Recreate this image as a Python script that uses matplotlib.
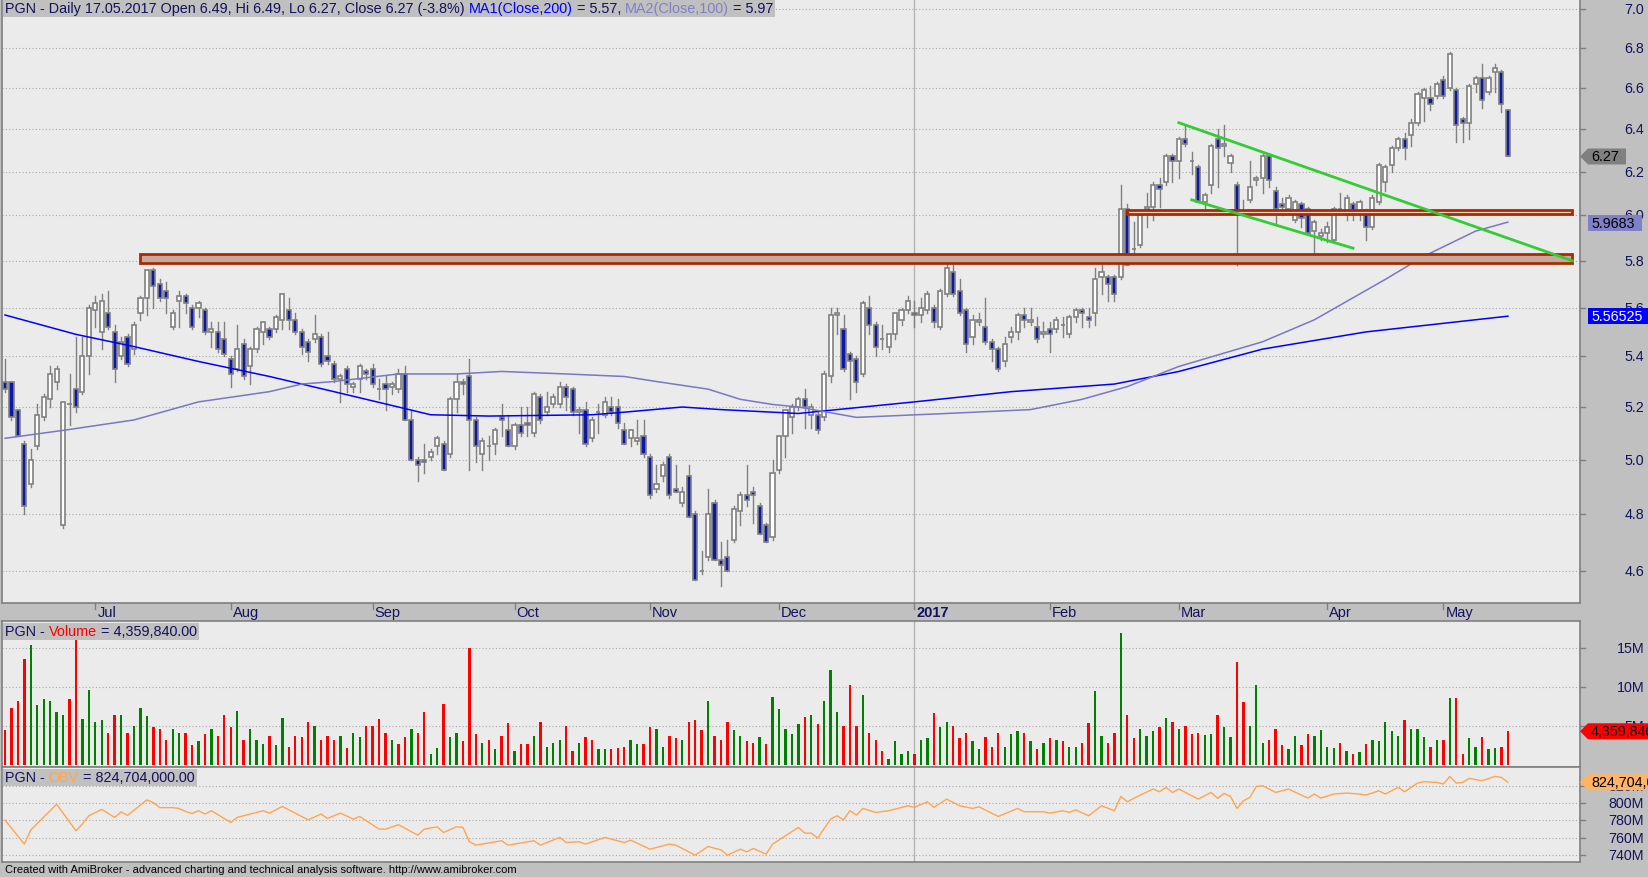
import matplotlib
matplotlib.use("Agg")
import matplotlib.pyplot as plt
from matplotlib.patches import Rectangle, Polygon
from matplotlib.lines import Line2D
from matplotlib.transforms import IdentityTransform, blended_transform_factory

plt.rcParams['font.family'] = ['Liberation Sans', 'DejaVu Sans']

# ---- daily candles, 234 sessions (Jun 2016 - 17 May 2017) ----
opens = [
    5.30, 5.30, 5.19, 5.06, 4.91, 5.05, 5.16, 5.23, 5.30, 4.76,
    5.21, 5.27, 5.26, 5.40, 5.59, 5.50, 5.58, 5.50, 5.40, 5.48,
    5.43, 5.58, 5.64, 5.76, 5.70, 5.67, 5.52, 5.63, 5.65, 5.60,
    5.60, 5.59, 5.50, 5.50, 5.47, 5.39, 5.35, 5.45, 5.36, 5.43,
    5.50, 5.51, 5.51, 5.55, 5.59, 5.55, 5.50, 5.46, 5.47, 5.48,
    5.40, 5.37, 5.31, 5.35, 5.28, 5.31, 5.34, 5.35, 5.27, 5.29,
    5.28, 5.27, 5.33, 5.15, 5.00, 5.00, 5.01, 5.05, 5.06, 5.02,
    5.23, 5.30, 5.32, 5.15, 5.02, 5.05, 5.06, 5.16, 5.11, 5.05,
    5.13, 5.14, 5.10, 5.24, 5.18, 5.21, 5.21, 5.28, 5.27, 5.18,
    5.19, 5.08, 5.18, 5.17, 5.20, 5.20, 5.11, 5.08, 5.07, 5.09,
    5.01, 4.89, 4.94, 5.01, 4.89, 4.84, 4.94, 4.80, 4.60, 4.65,
    4.84, 4.64, 4.65, 4.71, 4.81, 4.87, 4.88, 4.83, 4.76, 4.72,
    4.96, 5.09, 5.16, 5.20, 5.23, 5.17, 5.17, 5.16, 5.32, 5.57,
    5.51, 5.41, 5.39, 5.33, 5.60, 5.53, 5.47, 5.44, 5.49, 5.55,
    5.59, 5.58, 5.57, 5.59, 5.60, 5.52, 5.66, 5.75, 5.67, 5.59,
    5.48, 5.54, 5.52, 5.46, 5.43, 5.38, 5.48, 5.50, 5.57, 5.54,
    5.52, 5.49, 5.51, 5.51, 5.53, 5.49, 5.56, 5.59, 5.56, 5.58,
    5.73, 5.73, 5.73, 5.73, 6.03, 5.85, 5.87, 6.03, 6.04, 6.14,
    6.15, 6.27, 6.25, 6.35, 6.25, 6.22, 6.06, 6.14, 6.35, 6.32,
    6.24, 6.14, 6.02, 6.07, 6.16, 6.17, 6.27, 6.11, 6.05, 6.03,
    5.98, 6.05, 6.03, 5.93, 5.91, 5.92, 5.89, 6.03, 6.00, 6.05,
    6.01, 6.02, 5.95, 6.06, 6.15, 6.23, 6.31, 6.35, 6.37, 6.43,
    6.55, 6.55, 6.56, 6.64, 6.60, 6.59, 6.45, 6.43, 6.62, 6.65,
    6.58, 6.68, 6.68, 6.49,
]
highs = [
    5.39, 5.30, 5.19, 5.07, 5.04, 5.21, 5.25, 5.36, 5.36, 5.22,
    5.33, 5.48, 5.48, 5.61, 5.65, 5.66, 5.67, 5.53, 5.48, 5.49,
    5.54, 5.65, 5.76, 5.77, 5.72, 5.71, 5.59, 5.67, 5.66, 5.61,
    5.63, 5.60, 5.54, 5.54, 5.54, 5.40, 5.53, 5.47, 5.44, 5.52,
    5.54, 5.52, 5.57, 5.66, 5.64, 5.58, 5.51, 5.47, 5.57, 5.49,
    5.50, 5.38, 5.33, 5.36, 5.30, 5.37, 5.35, 5.37, 5.31, 5.32,
    5.30, 5.35, 5.36, 5.19, 5.01, 5.06, 5.04, 5.09, 5.07, 5.24,
    5.33, 5.31, 5.39, 5.16, 5.08, 5.09, 5.12, 5.21, 5.17, 5.14,
    5.20, 5.20, 5.26, 5.25, 5.26, 5.25, 5.30, 5.29, 5.28, 5.20,
    5.22, 5.16, 5.21, 5.24, 5.24, 5.23, 5.14, 5.11, 5.15, 5.15,
    5.02, 4.98, 4.99, 5.02, 4.98, 4.90, 4.98, 4.81, 4.67, 4.89,
    4.85, 4.70, 4.71, 4.83, 4.88, 4.98, 4.90, 4.84, 4.77, 5.00,
    5.09, 5.19, 5.21, 5.24, 5.27, 5.21, 5.18, 5.34, 5.60, 5.60,
    5.57, 5.42, 5.40, 5.63, 5.65, 5.54, 5.53, 5.49, 5.58, 5.60,
    5.65, 5.63, 5.64, 5.67, 5.61, 5.68, 5.80, 5.78, 5.72, 5.60,
    5.57, 5.58, 5.64, 5.47, 5.44, 5.48, 5.52, 5.58, 5.60, 5.60,
    5.56, 5.54, 5.54, 5.56, 5.56, 5.57, 5.60, 5.60, 5.60, 5.77,
    5.78, 5.74, 5.74, 6.14, 6.05, 5.97, 6.01, 6.10, 6.15, 6.17,
    6.28, 6.28, 6.36, 6.42, 6.29, 6.23, 6.10, 6.33, 6.40, 6.42,
    6.28, 6.15, 6.07, 6.25, 6.18, 6.28, 6.28, 6.13, 6.08, 6.09,
    6.07, 6.06, 6.04, 5.98, 5.94, 5.97, 6.04, 6.10, 6.09, 6.06,
    6.07, 6.03, 6.09, 6.24, 6.23, 6.32, 6.36, 6.38, 6.45, 6.58,
    6.60, 6.61, 6.63, 6.66, 6.78, 6.60, 6.46, 6.62, 6.66, 6.72,
    6.66, 6.72, 6.69, 6.49,
]
lows = [
    5.26, 5.15, 5.09, 4.80, 4.90, 5.04, 5.15, 5.20, 5.27, 4.75,
    5.13, 5.18, 5.25, 5.33, 5.52, 5.43, 5.51, 5.30, 5.39, 5.36,
    5.41, 5.55, 5.57, 5.60, 5.63, 5.58, 5.51, 5.52, 5.58, 5.51,
    5.56, 5.49, 5.44, 5.42, 5.40, 5.28, 5.34, 5.31, 5.29, 5.42,
    5.45, 5.47, 5.50, 5.51, 5.51, 5.49, 5.41, 5.38, 5.46, 5.36,
    5.37, 5.30, 5.22, 5.26, 5.26, 5.26, 5.31, 5.28, 5.23, 5.19,
    5.25, 5.26, 5.15, 5.00, 4.92, 4.95, 5.00, 5.02, 4.96, 5.01,
    5.18, 5.25, 4.96, 4.99, 4.96, 5.00, 5.02, 5.09, 5.05, 5.04,
    5.09, 5.09, 5.09, 5.14, 5.17, 5.20, 5.20, 5.19, 5.17, 5.10,
    5.05, 5.07, 5.10, 5.16, 5.17, 5.12, 5.06, 5.05, 5.06, 5.01,
    4.86, 4.88, 4.92, 4.86, 4.88, 4.83, 4.79, 4.57, 4.59, 4.64,
    4.64, 4.55, 4.60, 4.70, 4.76, 4.83, 4.77, 4.73, 4.70, 4.71,
    4.95, 5.01, 5.10, 5.19, 5.12, 5.12, 5.10, 5.15, 5.30, 5.49,
    5.34, 5.23, 5.26, 5.32, 5.49, 5.40, 5.43, 5.42, 5.47, 5.53,
    5.58, 5.52, 5.54, 5.58, 5.52, 5.51, 5.65, 5.65, 5.57, 5.42,
    5.45, 5.53, 5.45, 5.38, 5.34, 5.36, 5.46, 5.47, 5.52, 5.53,
    5.46, 5.48, 5.42, 5.50, 5.48, 5.48, 5.54, 5.52, 5.52, 5.53,
    5.66, 5.63, 5.63, 5.72, 5.78, 5.82, 5.86, 5.95, 5.98, 6.04,
    6.14, 6.15, 6.17, 6.32, 6.19, 6.06, 6.01, 6.10, 6.13, 6.27,
    6.20, 5.78, 6.01, 6.06, 6.14, 6.10, 6.13, 5.96, 6.00, 6.02,
    5.97, 5.95, 5.92, 5.79, 5.89, 5.88, 5.88, 6.02, 5.98, 5.98,
    5.98, 5.89, 5.94, 6.05, 6.11, 6.20, 6.30, 6.26, 6.32, 6.42,
    6.44, 6.49, 6.55, 6.55, 6.59, 6.34, 6.34, 6.35, 6.58, 6.50,
    6.57, 6.58, 6.48, 6.27,
]
closes = [
    5.27, 5.16, 5.09, 4.83, 5.00, 5.17, 5.24, 5.33, 5.35, 5.22,
    5.21, 5.20, 5.40, 5.60, 5.62, 5.63, 5.52, 5.35, 5.46, 5.37,
    5.53, 5.64, 5.76, 5.69, 5.64, 5.64, 5.58, 5.65, 5.62, 5.52,
    5.62, 5.50, 5.51, 5.43, 5.41, 5.33, 5.43, 5.32, 5.43, 5.51,
    5.54, 5.48, 5.56, 5.66, 5.55, 5.50, 5.44, 5.42, 5.49, 5.37,
    5.38, 5.31, 5.32, 5.29, 5.29, 5.36, 5.33, 5.29, 5.27, 5.27,
    5.29, 5.33, 5.15, 5.00, 4.98, 4.99, 5.03, 5.08, 4.96, 5.23,
    5.30, 5.29, 5.15, 5.05, 5.07, 5.05, 5.11, 5.15, 5.05, 5.13,
    5.10, 5.13, 5.25, 5.15, 5.20, 5.24, 5.28, 5.24, 5.18, 5.19,
    5.06, 5.15, 5.18, 5.22, 5.18, 5.14, 5.06, 5.11, 5.08, 5.02,
    4.87, 4.91, 4.98, 4.87, 4.88, 4.88, 4.79, 4.57, 4.60, 4.80,
    4.64, 4.62, 4.60, 4.82, 4.87, 4.85, 4.87, 4.73, 4.70, 4.95,
    5.09, 5.19, 5.20, 5.23, 5.20, 5.20, 5.11, 5.33, 5.57, 5.58,
    5.35, 5.38, 5.30, 5.62, 5.53, 5.44, 5.47, 5.49, 5.58, 5.59,
    5.63, 5.57, 5.60, 5.66, 5.54, 5.67, 5.77, 5.66, 5.58, 5.45,
    5.55, 5.55, 5.46, 5.43, 5.35, 5.45, 5.50, 5.57, 5.55, 5.55,
    5.47, 5.50, 5.49, 5.55, 5.53, 5.56, 5.59, 5.58, 5.55, 5.72,
    5.75, 5.70, 5.66, 6.03, 5.78, 5.85, 6.00, 6.04, 6.14, 6.12,
    6.27, 6.25, 6.35, 6.33, 6.25, 6.06, 6.09, 6.32, 6.31, 6.33,
    6.27, 6.01, 6.02, 6.13, 6.17, 6.27, 6.16, 6.03, 6.04, 6.08,
    6.06, 5.99, 5.92, 5.97, 5.92, 5.95, 6.03, 6.03, 6.08, 6.01,
    6.06, 5.95, 6.08, 6.23, 6.22, 6.31, 6.35, 6.31, 6.43, 6.57,
    6.59, 6.52, 6.62, 6.56, 6.77, 6.42, 6.43, 6.61, 6.65, 6.54,
    6.65, 6.70, 6.52, 6.27,
]

# volume in millions, colour per bar (g = up, r = down)
volume_m = [
    4.5, 7.3, 8.2, 13.6, 15.4, 7.7, 8.5, 8.3, 6.8, 6.4,
    8.5, 16.2, 5.9, 9.7, 5.5, 5.8, 4.1, 6.4, 6.4, 4.2,
    5.0, 7.4, 6.3, 4.9, 4.6, 3.3, 4.6, 4.2, 4.1, 2.6,
    3.1, 4.0, 4.6, 3.7, 6.4, 4.9, 6.9, 3.3, 4.6, 3.2,
    2.7, 3.7, 2.6, 6.0, 2.3, 3.7, 3.6, 5.6, 5.1, 3.3,
    3.8, 3.2, 3.8, 2.2, 4.2, 3.6, 5.0, 5.0, 5.9, 4.1,
    3.2, 2.7, 3.6, 4.6, 4.1, 6.8, 1.4, 2.2, 7.8, 3.6,
    4.2, 3.1, 15.1, 4.0, 2.8, 3.3, 2.1, 3.7, 5.4, 1.8,
    2.7, 2.7, 3.7, 5.5, 2.4, 2.9, 3.2, 5.1, 1.8, 2.8,
    3.6, 3.2, 2.1, 2.1, 2.1, 2.2, 2.4, 3.3, 2.7, 2.7,
    4.9, 4.6, 2.3, 3.8, 3.5, 3.2, 5.5, 5.8, 4.5, 8.3,
    3.7, 3.2, 5.6, 4.5, 3.7, 3.1, 2.9, 3.6, 2.7, 8.7,
    7.2, 4.6, 4.0, 5.3,
    6.2, 6.4, 5.3, 8.2, 12.2, 6.8, 5.0, 10.3, 5.0, 9.0,
    4.1, 3.2, 1.8, 0.8, 3.1, 1.5, 1.8, 1.5, 3.3, 3.5,
    6.7, 4.9, 5.6, 5.0, 3.5, 4.2, 3.1, 2.1, 3.6, 2.3,
    4.1, 2.3, 4.0, 4.4, 4.2, 3.1, 2.1, 2.9, 3.5, 3.3,
    3.1, 2.3, 2.3, 2.8, 5.4, 9.5, 3.7, 2.9, 4.1, 16.9,
    6.5, 3.5, 4.6, 3.8, 4.4, 4.9, 6.0, 5.6, 4.6, 5.0,
    4.0, 4.1, 3.9, 4.0, 6.4, 4.9, 3.6, 13.3, 8.1, 5.0,
    10.3, 2.8, 3.2, 4.7, 2.6, 2.1, 3.8, 2.6, 4.0, 3.7,
    4.5, 2.3, 2.2, 2.8, 1.8, 1.5, 1.7, 2.7, 3.2, 3.1,
    5.5, 4.4, 3.7, 5.8, 4.7, 4.7, 3.6, 2.4, 3.3, 3.2,
    8.6, 8.6, 1.5, 3.5, 2.4, 3.6, 2.1, 2.2, 2.3, 4.36,
]
volume_dir = (
    "rrrrgggggg" "rrggggrrgr" "gggrrrggrr" "grgrrrgrgg" "grggrrrrgr"
    "rrgrggrrrr" "grrgrrggrg" "grrrgrgrrg" "rrgrgggrrg" "rrggrrrggr"
    "rggrrgrrrg" "rrrggrrgrg" "gggg"
    "rgrgggrrrg" "rrrggggrgg" "rggrrrggrr" "rgggrgrgrg" "rggrrggrrg"
    "rrgggrgrgr" "rrggrggrrg" "ggrrrggrrg" "gggrgrgrgg" "gggrgggrgr"
    "grrggrggrr"
)

# moving averages (bar index, value)
ma200_bar = [0, 11, 20, 30, 41, 51, 61, 66, 75, 91, 96, 105, 111, 123, 127,
             141, 156, 172, 182, 195, 211, 233]
ma200_val = [5.57, 5.49, 5.44, 5.38, 5.32, 5.26, 5.20, 5.17, 5.165, 5.17, 5.18,
             5.20, 5.19, 5.175, 5.185, 5.22, 5.26, 5.29, 5.34, 5.43, 5.50, 5.565]
ma100_bar = [0, 9, 20, 30, 41, 46, 51, 61, 70, 77, 87, 96, 101, 109, 114, 119,
             123, 132, 146, 159, 167, 174, 182, 195, 203, 214, 220, 228, 233]
ma100_val = [5.08, 5.11, 5.15, 5.22, 5.26, 5.29, 5.30, 5.33, 5.33, 5.34, 5.33,
             5.32, 5.30, 5.27, 5.23, 5.21, 5.20, 5.16, 5.175, 5.19, 5.23, 5.28,
             5.36, 5.46, 5.55, 5.72, 5.82, 5.93, 5.97]

# on balance volume, millions
obv_bar = [0, 3, 4, 8, 11, 12, 13, 15, 17, 18, 19, 22, 23, 24, 26, 27, 28, 29,
           30, 31, 32, 35, 36, 40, 41, 43, 47, 49, 50, 52, 54, 55, 58, 59, 61,
           64, 65, 67, 68, 70, 71, 72, 73, 77, 78, 82, 83, 86, 87, 89, 90, 93,
           96, 97, 100, 103, 104, 107, 109, 111, 112, 114, 115, 116, 118, 119,
           123, 124, 125, 126, 128, 129, 130, 131, 132, 133, 135, 137, 140,
           141, 143, 144, 146, 148, 150, 151, 154, 157, 158, 161, 162, 164,
           165, 166, 168, 170, 172, 173, 174, 176, 178, 179, 180, 181, 182,
           185, 187, 188, 189, 190, 191, 192, 193, 194, 195, 197, 199, 202,
           203, 204, 206, 208, 210, 211, 213, 214, 216, 217, 219, 220, 222,
           223, 224, 225, 226, 227, 229, 231, 232, 233]
obv_val = [780.5, 752.4, 769, 799, 768, 776, 785.5, 793, 783.6, 790,
           786, 804, 801, 795, 795, 794, 790.6, 788.2, 791.4, 787.5,
           791.4, 777.7, 783.6, 791.4, 788.6, 796.4, 780.8, 787.5, 782.4, 788.6,
           781.6, 784.7, 769.9, 769.9, 775, 762.9, 769.9, 772.6, 766, 772.6,
           772, 755.1, 751.2, 756.3, 751.2, 756.3, 751.2, 760.2, 754.3, 755.1,
           752.4, 760.2, 754.3, 757, 746.5, 752.4, 751.2, 739.5, 749.6, 745.7,
           739.5, 746.5, 743.4, 747.3, 740.7, 752.4, 771.9, 765.2, 765.2, 759.4,
           781.6, 785.5, 780.8, 791.4, 786.3, 794.1, 789.4, 791.4, 797.2, 795.3,
           801.9, 795.3, 805, 797.2, 794.1, 796, 784.7, 794.1, 790.2, 790.2,
           788.6, 791.4, 789.4, 792.5, 785.5, 797.2, 791.4, 808.1, 801.9, 809.7,
           816.7, 813.6, 818.7, 812.8, 816.7, 805, 812.8, 805.8, 811.6, 808.1,
           794.1, 803, 807, 819.8, 820.6, 812.8, 816.7, 806.2, 810.9, 806.2,
           810.9, 812, 810.9, 809.7, 814.7, 810.9, 818.7, 813.6, 823.7, 825.3,
           824.5, 822.6, 831.5, 823.7, 824.5, 829.2, 826.5, 831.5, 830.4, 824.7]

# hand-drawn studies: support/resistance zones and green trend lines
zone_start = [21, 174]
zone_end = [243, 243]
zone_low = [5.79, 6.005]
zone_high = [5.83, 6.026]
zone_fill = ['#c6a8a0', '#e2d2cc']
trend_bars = [[182, 243], [184, 209]]
trend_vals = [[6.43, 5.80], [6.07, 5.855]]

# date axis: first session of each month
month_bar = [14, 35, 57, 79, 100, 120, 141, 162, 182, 205, 223]
month_lbl = ['Jul', 'Aug', 'Sep', 'Oct', 'Nov', 'Dec', '2017', 'Feb', 'Mar',
             'Apr', 'May']
year_bar = 141

price_ticks = [4.6, 4.8, 5.0, 5.2, 5.4, 5.6, 5.8, 6.0, 6.2, 6.4, 6.6, 6.8, 7.0]
vol_ticks = [5, 10, 15]
obv_ticks = [740, 760, 780, 800, 820]

# ---- layout (pixels) ----
W, H = 1648, 878
PL, PR = 2, 1580
X0, DX = 5, 6.45
NAVY = '#12125e'

fig = plt.figure(figsize=(W / 100, H / 100), dpi=100, facecolor='#c0c0c0')


def box(l, t, r, b):
    return [l / W, 1 - b / H, (r - l) / W, (b - t) / H]


ax = fig.add_axes(box(PL, 0, PR, 604))
axv = fig.add_axes(box(PL, 622, PR, 768))
axo = fig.add_axes(box(PL, 768, PR, 863))

for a in (ax, axv, axo):
    a.set_facecolor('#ebebeb')
    a.set_xlim((PL - X0) / DX, (PR - X0) / DX)
    a.set_xticks([])
    a.set_yticks([])
    for s in a.spines.values():
        s.set_color('#808080')
        s.set_linewidth(1.2)
    a.axvline(year_bar, color='#b4b4b4', lw=1, zorder=0.6)

ax.set_yscale('log')
ax.set_ylim(4.492, 7.0525)
ax.minorticks_off()
ax.set_yticks([])
axv.set_ylim(-0.22, 18.5)
axo.set_ylim(731.5, 842.5)


def right_axis(a, ticks, labels):
    tr = blended_transform_factory(a.transAxes, a.transData)
    w = PR - PL
    for t, lab in zip(ticks, labels):
        a.axhline(t, color='#a8a8a8', lw=0.8, ls=(0, (1, 2)), zorder=0.5)
        a.plot([1, 1 + 5 / w], [t, t], transform=tr, color='#808080', lw=1,
               clip_on=False)
        a.text(1 + (1644 - PR) / w, t, lab, transform=tr, ha='right',
               va='center', fontsize=10.3, color=NAVY, clip_on=False)


right_axis(ax, price_ticks, ['%.1f' % t for t in price_ticks])
right_axis(axv, vol_ticks, ['%dM' % t for t in vol_ticks])
right_axis(axo, obv_ticks, ['%dM' % t for t in obv_ticks])

# candles
for i, (o, h, l, c) in enumerate(zip(opens, highs, lows, closes)):
    ax.plot([i, i], [l, h], color='#808080', lw=1, zorder=2)
    fc = 'white' if c >= o else '#0c18a6'
    ax.add_patch(Rectangle((i - 0.32, min(o, c)), 0.64, abs(c - o),
                           facecolor=fc, edgecolor='#808080', lw=1.2, zorder=3))

ax.plot(ma200_bar, ma200_val, color='#0000ff', lw=1.1, zorder=3.5)
ax.plot(ma100_bar, ma100_val, color='#7878c4', lw=1.1, zorder=3.5)

for x0, x1, lo, hi, fc in zip(zone_start, zone_end, zone_low, zone_high, zone_fill):
    ax.add_patch(Rectangle((x0, lo), x1 - x0, hi - lo, facecolor=fc,
                           edgecolor='#a82c00', lw=2, zorder=4))
for xs, ys in zip(trend_bars, trend_vals):
    ax.plot(xs, ys, color='#33cc33', lw=2, zorder=5)

# volume
vcol = {'g': '#008000', 'r': '#ff0000'}
axv.bar(range(len(volume_m)), volume_m, width=0.36,
        color=[vcol[d] for d in volume_dir], zorder=2)

# OBV
axo.plot(obv_bar, obv_val, color='#ffa54f', lw=1, zorder=2)

# date axis
for b, lab in zip(month_bar, month_lbl):
    x = X0 + b * DX
    fig.add_artist(Line2D([x, x], [H - 604, H - 610], transform=IdentityTransform(),
                          color='#808080', lw=1))
    fig.text((x + 2) / W, 1 - 613 / H, lab, fontsize=10.5, color=NAVY,
             ha='left', va='center', fontweight='bold' if lab == '2017' else 'normal')

renderer = fig.canvas.get_renderer()


def text_width(s, fs):
    t = fig.text(0, 0, s + '|', fontsize=fs)
    w = t.get_window_extent(renderer).width
    t.remove()
    t = fig.text(0, 0, '|', fontsize=fs)
    w -= t.get_window_extent(renderer).width
    t.remove()
    return w


def title(x, y, parts, fs=10.4):
    full = ''
    for s, col in parts:
        xx = x + (text_width(full, fs) if full else 0)
        fig.text(xx / W, 1 - y / H, s, color=col, fontsize=fs, ha='left',
                 va='center', zorder=7)
        full += s
    w = text_width(full, fs)
    fig.add_artist(Rectangle((x - 2, H - y - 8.5), w + 4, 17,
                             transform=IdentityTransform(), facecolor='#c0c0c0',
                             edgecolor='none', zorder=6))


title(5, 9, [('PGN - Daily 17.05.2017 Open 6.49, Hi 6.49, Lo 6.27, Close 6.27 (-3.8%) ', NAVY),
             ('MA1(Close,200)', '#0000ff'), (' = 5.57, ', NAVY),
             ('MA2(Close,100)', '#8080c8'), (' = 5.97', NAVY)])
title(5, 632, [('PGN - ', NAVY), ('Volume', '#ff0000'), (' = 4,359,840.00', NAVY)])
title(5, 778, [('PGN - ', NAVY), ('OBV', '#ffa54f'), (' = 824,704,000.00', NAVY)])


def tag(a, val, label, bg, fg, right, arrow=True):
    y = a.transData.transform((0, val))[1]
    hh = 8
    pts = [(PR + 8, y + hh), (right, y + hh), (right, y - hh), (PR + 8, y - hh)]
    if arrow:
        pts.append((PR, y))
    fig.add_artist(Polygon(pts, closed=True, transform=IdentityTransform(),
                           facecolor=bg, edgecolor='none', zorder=8))
    fig.text((PR + 11) / W, y / H, label, color=fg, fontsize=10.3, ha='left',
             va='center', zorder=9)


tag(ax, closes[-1], '%.2f' % closes[-1], '#808080', '#000000', 1626)
tag(ax, 5.9683, '5.9683', '#8080c8', '#000000', 1642, arrow=False)
tag(ax, 5.56525, '5.56525', '#0000ff', '#ffffff', 1650, arrow=False)
tag(axv, volume_m[-1], '4,359,840', '#ff0000', '#000000', 1650)
tag(axo, obv_val[-1], '824,704,0', '#ffb366', '#000000', 1650)

fig.text(5 / W, 1 - 870 / H,
         'Created with AmiBroker - advanced charting and technical analysis '
         'software. http://www.amibroker.com', fontsize=8, color='#000000',
         ha='left', va='center')

fig.savefig('out.png', dpi=100, facecolor=fig.get_facecolor())
